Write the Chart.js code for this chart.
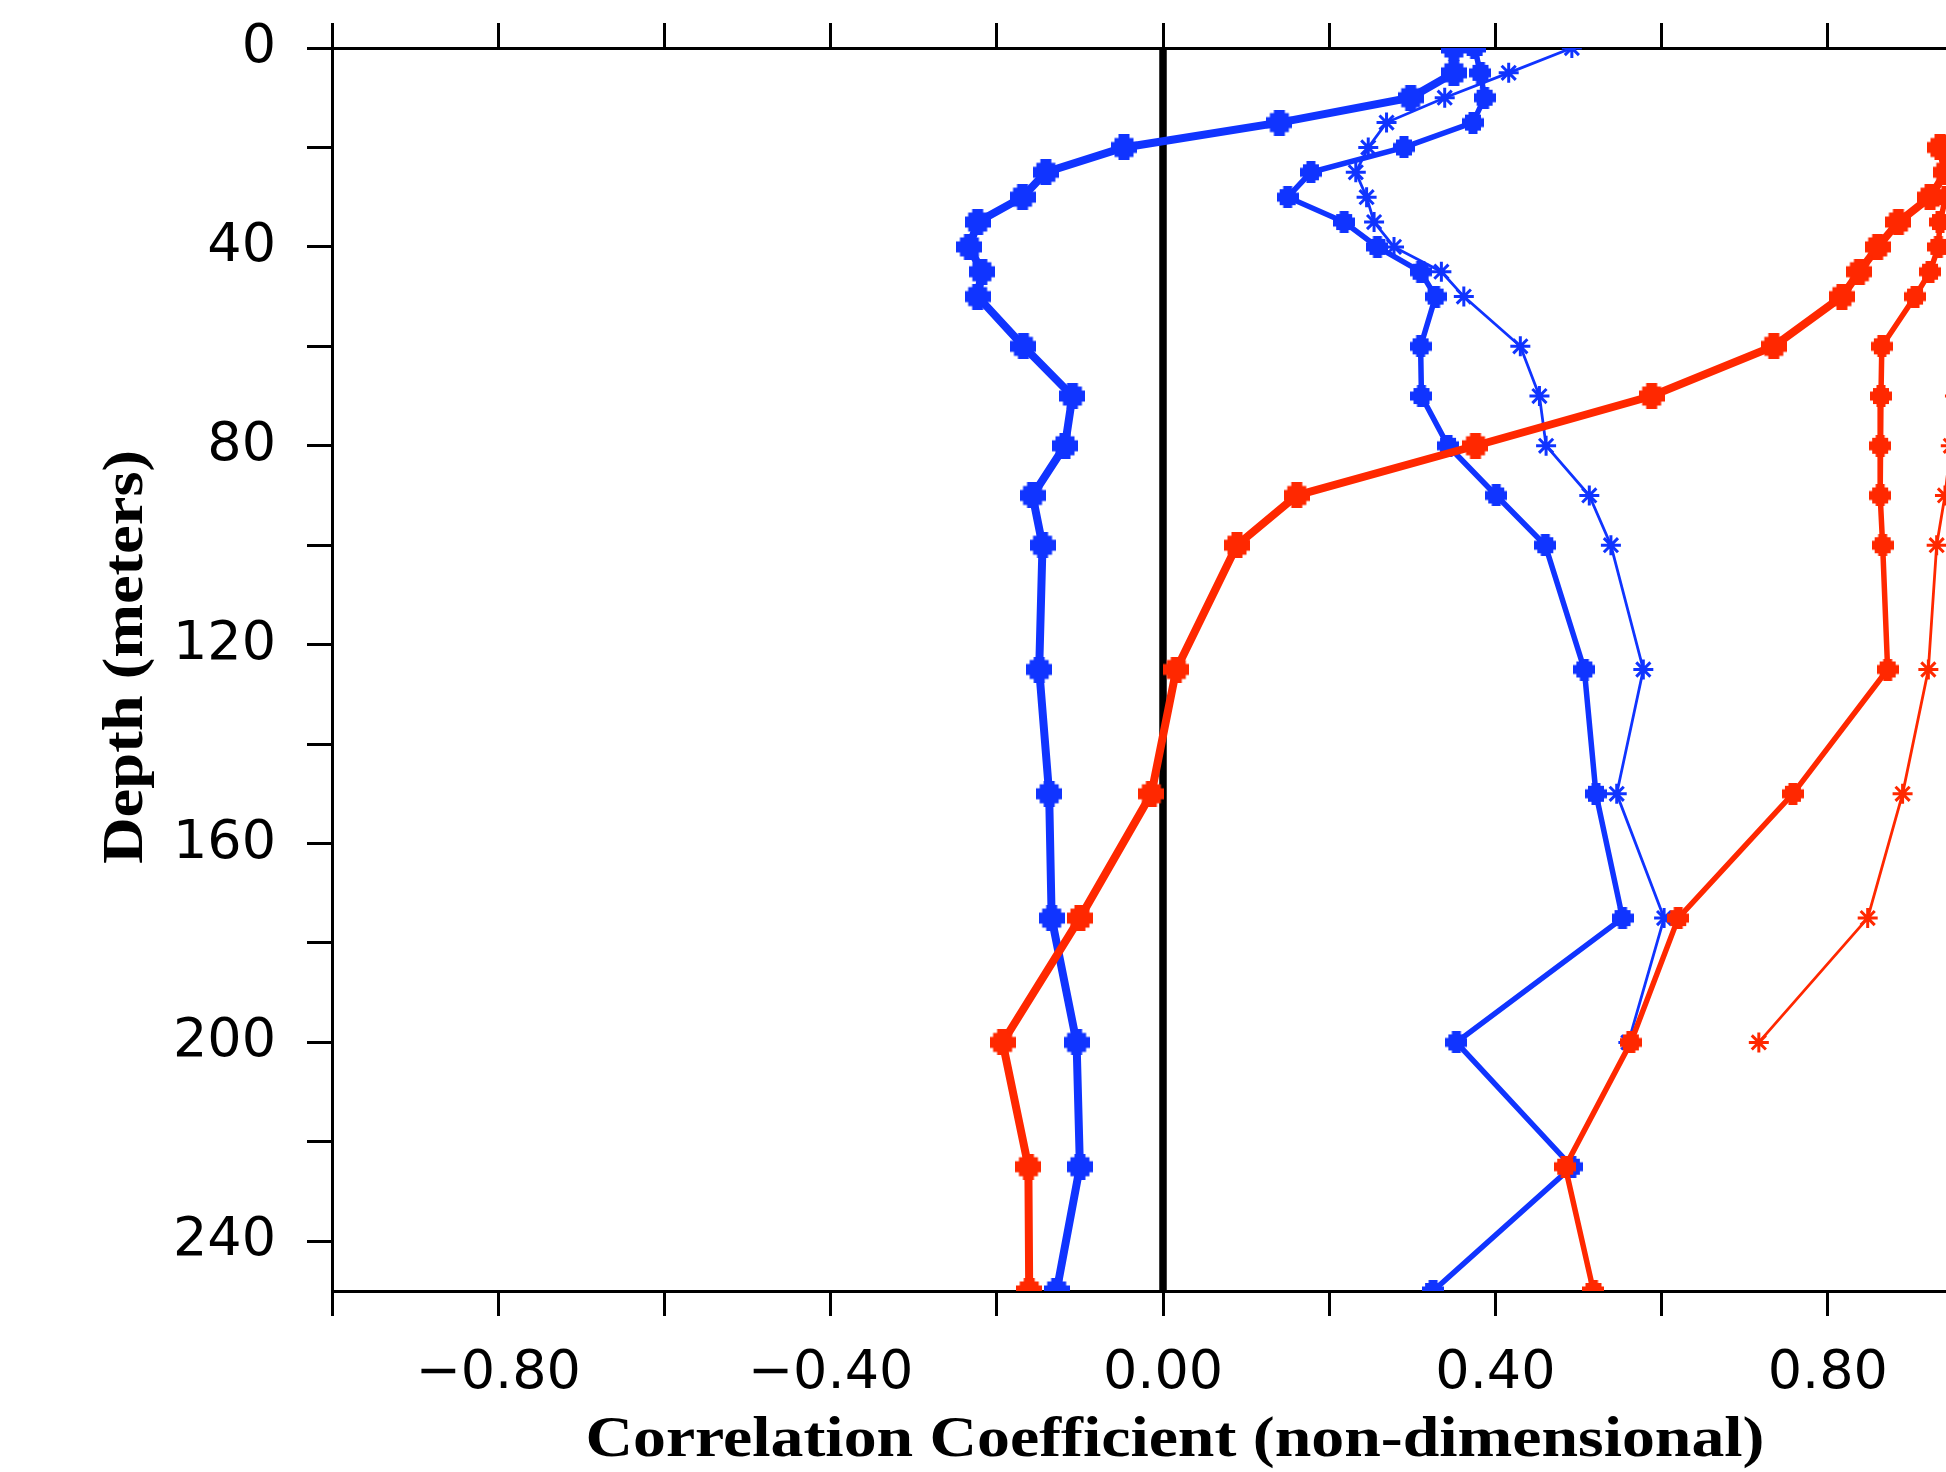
<!DOCTYPE html>
<html>
<head>
<meta charset="utf-8">
<title>Correlation Coefficient vs Depth</title>
<script src="https://cdn.jsdelivr.net/npm/chart.js@4.4.1/dist/chart.umd.min.js"></script>
<style>
    html, body { margin: 0; padding: 0; background: #fff; overflow: hidden; }
    #wrap { width: 1946px; height: 1472px; overflow: hidden; position: relative; }
    #corrChart { display: block; }
</style>
</head>
<body>
<div id="wrap"><canvas id="corrChart" width="2012" height="1472"></canvas></div>
<script>
// =========================================
// DATA
// =========================================
// depth levels (meters)
const depths = [0, 5, 10, 15, 20, 25, 30, 35, 40, 45, 50, 60, 70, 80, 90, 100, 125, 150, 175, 200, 225, 250];

// blue profiles
const blueThick = [0.350, 0.350, 0.298, 0.140, -0.047, -0.141, -0.169, -0.223, -0.233, -0.218, -0.223,
    -0.168, -0.109, -0.118, -0.157, -0.145, -0.149, -0.137, -0.134, -0.104, -0.100, -0.128];
const blueMid = [0.375, 0.382, 0.387, 0.373, 0.290, 0.178, 0.150, 0.218, 0.258, 0.310, 0.328,
    0.310, 0.311, 0.343, 0.401, 0.460, 0.507, 0.521, 0.553, 0.353, 0.492, 0.325];
const blueThin = [0.492, 0.416, 0.339, 0.269, 0.247, 0.232, 0.245, 0.254, 0.278, 0.335, 0.362,
    0.430, 0.453, 0.461, 0.513, 0.539, 0.578, 0.546, 0.603, 0.560, null, null];

// red profiles (shallow values run off the right edge of the frame)
const redThick = [0.975, 0.975, 0.970, 0.960, 0.935, 0.942, 0.923, 0.885, 0.860, 0.838, 0.817,
    0.735, 0.588, 0.376, 0.161, 0.089, 0.016, -0.014, -0.100, -0.193, -0.162, -0.161];
const redMid = [0.980, 0.980, 0.975, 0.970, 0.965, 0.955, 0.942, 0.935, 0.933, 0.923, 0.905,
    0.865, 0.864, 0.863, 0.863, 0.866, 0.872, 0.758, 0.620, 0.563, 0.484, 0.518];
const redThin = [0.990, 0.990, 0.985, 0.980, 0.980, 0.975, 0.975, 0.970, 0.970, 0.965, 0.960,
    0.958, 0.953, 0.948, 0.941, 0.931, 0.921, 0.890, 0.848, 0.717, null, null];

// axes
const xTickValues = [-1.0, -0.8, -0.6, -0.4, -0.2, 0.0, 0.2, 0.4, 0.6, 0.8, 1.0];
const xTickLabels = ['', '\u22120.80', '', '\u22120.40', '', '0.00', '', '0.40', '', '0.80', ''];
const yTickValues = [0, 20, 40, 60, 80, 100, 120, 140, 160, 180, 200, 220, 240];
const yTickLabels = ['0', '', '40', '', '80', '', '120', '', '160', '', '200', '', '240'];
const xTitle = 'Correlation Coefficient (non-dimensional)';
const yTitle = 'Depth (meters)';

// =========================================
// STYLE HELPERS
// =========================================
const BLUE = '#1034ff';
const RED = '#ff2800';
const tickFont = { family: '"DejaVu Sans"', size: 54 };

function profile(values) {
    const pts = [];
    values.forEach((v, i) => {
        if (v !== null) pts.push({ x: v, y: depths[i] });
    });
    return pts;
}

// filled square with tabs, like the plotting package's marker
function blockMarker(color, size) {
    const c = document.createElement('canvas');
    c.width = size;
    c.height = size;
    const g = c.getContext('2d');
    g.fillStyle = color;
    const sq = Math.round(size * 0.74);
    const o = (size - sq) / 2;
    g.fillRect(o, o, sq, sq);
    const w = Math.round(size * 0.42);
    const ow = (size - w) / 2;
    g.fillRect(ow, 0, w, size);
    g.fillRect(0, ow, size, w);
    return c;
}

function series(values, color, width, kind) {
    const ds = {
        data: profile(values),
        showLine: true,
        borderColor: color,
        backgroundColor: color,
        borderWidth: width,
        tension: 0,
        pointRadius: 10,
        pointBorderColor: color,
        pointBackgroundColor: color
    };
    if (kind === 'star') {
        ds.pointStyle = 'star';
        ds.pointRadius = 10;
        ds.pointBorderWidth = 3;
    } else {
        ds.pointStyle = blockMarker(color, kind === 'big' ? 26 : 22);
    }
    return ds;
}

function noPadding(s) {
    s.paddingTop = 0;
    s.paddingBottom = 0;
    s.paddingLeft = 0;
    s.paddingRight = 0;
}

function xAxis(position, withLabels) {
    return {
        type: 'linear',
        position: position,
        min: -1,
        max: 1,
        afterBuildTicks: (s) => { s.ticks = xTickValues.map(v => ({ value: v })); },
        afterFit: (s) => {
            s.height = position === 'top' ? 48 : 181;
            noPadding(s);
        },
        ticks: {
            autoSkip: false,
            maxRotation: 0,
            padding: 26,
            color: '#000',
            font: tickFont,
            callback: (v, i) => withLabels ? xTickLabels[i] : ''
        },
        grid: { drawOnChartArea: false, drawTicks: true, tickLength: 25, tickWidth: 3, tickColor: '#000' },
        border: { display: true, color: '#000', width: 3 }
    };
}

// axis titles drawn by hand so the wide serif lettering can be matched
const axisTitles = {
    id: 'axisTitles',
    afterDraw(chart) {
        const ctx = chart.ctx;
        ctx.save();
        ctx.fillStyle = '#000';
        ctx.font = 'bold 56px "Liberation Serif"';
        ctx.textAlign = 'center';
        ctx.textBaseline = 'alphabetic';
        let w = ctx.measureText(xTitle).width;
        ctx.translate(1175, 1456);
        ctx.scale(1179 / w, 1);
        ctx.fillText(xTitle, 0, 0);
        ctx.restore();

        ctx.save();
        ctx.fillStyle = '#000';
        ctx.font = 'bold 56px "Liberation Serif"';
        ctx.textAlign = 'center';
        ctx.textBaseline = 'alphabetic';
        w = ctx.measureText(yTitle).width;
        ctx.translate(142, 657);
        ctx.rotate(-Math.PI / 2);
        ctx.scale(414 / w, 1);
        ctx.fillText(yTitle, 0, 0);
        ctx.restore();
    }
};

// =========================================
// CHART
// =========================================
document.addEventListener('DOMContentLoaded', () => {
    const zeroLine = {
        data: [{ x: 0, y: depths[0] }, { x: 0, y: depths[depths.length - 1] }],
        showLine: true,
        borderColor: '#000',
        borderWidth: 7.5,
        pointRadius: 0,
        order: 10
    };

    new Chart(document.getElementById('corrChart'), {
        type: 'scatter',
        data: {
            datasets: [
                series(redThick, RED, 8, 'big'),
                series(redMid, RED, 5.5, 'mid'),
                series(redThin, RED, 2.8, 'star'),
                series(blueThick, BLUE, 8, 'big'),
                series(blueMid, BLUE, 5.5, 'mid'),
                series(blueThin, BLUE, 2.8, 'star'),
                zeroLine
            ]
        },
        options: {
            responsive: false,
            animation: false,
            devicePixelRatio: 1,
            layout: { padding: { left: 0, top: 0, right: 8, bottom: 0 } },
            plugins: {
                legend: { display: false },
                tooltip: { enabled: false }
            },
            scales: {
                x: xAxis('bottom', true),
                x2: xAxis('top', false),
                y: {
                    type: 'linear',
                    position: 'left',
                    reverse: true,
                    min: 0,
                    max: 250,
                    afterBuildTicks: (s) => { s.ticks = yTickValues.map(v => ({ value: v })); },
                    afterFit: (s) => {
                        s.width = 332;
                        noPadding(s);
                    },
                    ticks: {
                        autoSkip: false,
                        padding: 31,
                        color: '#000',
                        font: tickFont,
                        callback: (v, i) => yTickLabels[i]
                    },
                    grid: { drawOnChartArea: false, drawTicks: true, tickLength: 25, tickWidth: 3, tickColor: '#000' },
                    border: { display: true, color: '#000', width: 3 }
                }
            }
        },
        plugins: [axisTitles]
    });
});
</script>
</body>
</html>
